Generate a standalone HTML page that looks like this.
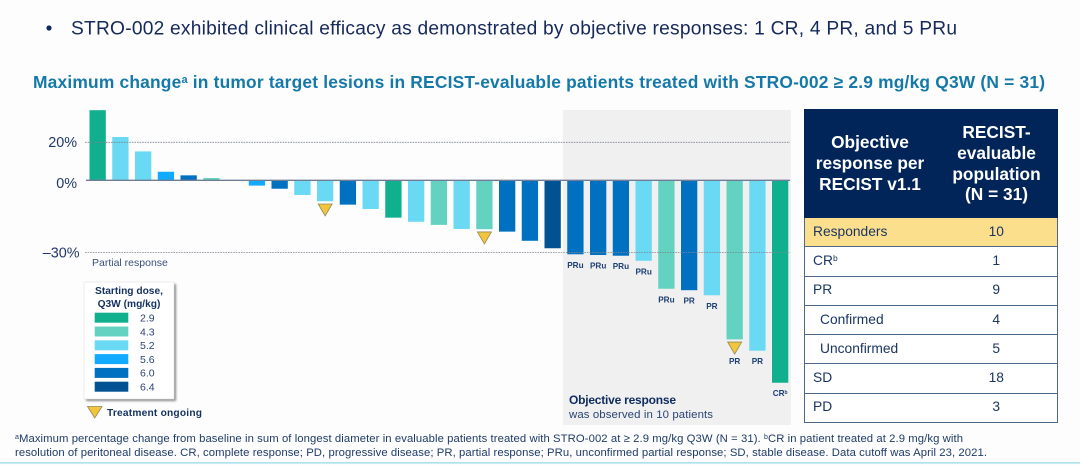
<!DOCTYPE html>
<html lang="en">
<head>
<meta charset="utf-8">
<title>STRO-002 waterfall chart</title>
<style>
  html, body { margin: 0; padding: 0; background: #fdfdfd; }
  #slide { position: relative; width: 1080px; height: 465px; overflow: hidden; background: #fdfdfd; font-family: "Liberation Sans", sans-serif; filter: blur(0.35px); }
  #chart { position: absolute; left: 0; top: 0; }
  #response-table { position: absolute; left: 804px; top: 109px; width: 254px; table-layout: fixed; border-collapse: collapse; color: #1c3563; font-size: 13.8px; }
  #response-table th { background: #022559; color: #fff; font-size: 17.3px; line-height: 20.7px; font-weight: bold; height: 107px; padding: 0; border: 1px solid #022559; text-align: center; }
  #response-table td { height: 26.3px; padding: 0 0 2px 0; border-top: 1px solid #4f6888; border-bottom: 1px solid #4f6888; background: #fff; }
  #response-table td:first-child { padding-left: 8px; border-left: 1px solid #4f6888; }
  #response-table td:last-child { text-align: center; border-right: 1px solid #4f6888; }
  #response-table tr.hl td { background: #fbdf8c; }
  #response-table td.indent { padding-left: 15px; }
  #response-table sup { font-size: 8.5px; line-height: 0; vertical-align: 4px; }
</style>
</head>
<body>
<div id="slide">
  <svg id="chart" width="1080" height="465" viewBox="0 0 1080 465" font-family="'Liberation Sans', sans-serif">
    <defs>
      <filter id="legend-blur" x="-10%" y="-10%" width="120%" height="120%"><feGaussianBlur stdDeviation="1"></feGaussianBlur></filter>
    </defs>
    <circle cx="49" cy="28" r="2.6" fill="#12295c"></circle>
    <text x="71" y="34.5" font-size="19.2" fill="#16295c" textLength="886" lengthAdjust="spacing">STRO-002 exhibited clinical efficacy as demonstrated by objective responses: 1 CR, 4 PR, and 5 PRu</text>
    <text x="33" y="88" font-size="17.4" font-weight="bold" fill="#1479a8" textLength="1012" lengthAdjust="spacing">Maximum change<tspan font-size="11" dy="-5">a</tspan><tspan dy="5"> in tumor target lesions in RECIST-evaluable patients treated with STRO-002 ≥ 2.9 mg/kg Q3W (N = 31)</tspan></text>

    <rect x="563" y="110" width="228" height="315" fill="#f0f0f0"></rect>
    <g id="bars"></g>
    <g id="grid"></g>
    <g id="markers"></g>
    <g id="bar-labels"></g>
    <g id="ticks"></g>

    <text x="92" y="266" font-size="10.5" fill="#3a5078">Partial response</text>

    <text x="569" y="404" font-size="12" font-weight="bold" fill="#0f2b5e" textLength="107" lengthAdjust="spacing">Objective response</text>
    <text x="569" y="418" font-size="11.4" fill="#2a4474" textLength="144" lengthAdjust="spacing">was observed in 10 patients</text>

    <g>
      <rect x="86" y="284" width="90" height="117" fill="#8a8a8a" filter="url(#legend-blur)"></rect>
      <rect x="84" y="282" width="90" height="117" fill="#ffffff" stroke="#e2e2e2" stroke-width="0.6"></rect>
      <text x="129" y="294" font-size="10.2" font-weight="bold" fill="#14305f" text-anchor="middle">Starting dose,</text>
      <text x="129" y="307" font-size="10.2" font-weight="bold" fill="#14305f" text-anchor="middle">Q3W (mg/kg)</text>
      <g id="legend-entries"></g>
    </g>
    <polygon points="87.5,406.5 102,406.5 94.75,418" fill="#f2c53d" stroke="#8f8a5a" stroke-width="0.8"></polygon>
    <text x="107" y="416" font-size="10.2" font-weight="bold" fill="#14305f" textLength="95" lengthAdjust="spacing">Treatment ongoing</text>

    <text x="15" y="442" font-size="11.3" fill="#1f3b68" textLength="948" lengthAdjust="spacing"><tspan font-size="7" dy="-3">a</tspan><tspan dy="3">Maximum percentage change from baseline in sum of longest diameter in evaluable patients treated with STRO-002 at ≥ 2.9 mg/kg Q3W (N = 31). </tspan><tspan font-size="7" dy="-3">b</tspan><tspan dy="3">CR in patient treated at 2.9 mg/kg with</tspan></text>
    <text x="15" y="456" font-size="11.3" fill="#1f3b68" textLength="972" lengthAdjust="spacing">resolution of peritoneal disease. CR, complete response; PD, progressive disease; PR, partial response; PRu, unconfirmed partial response; SD, stable disease. Data cutoff was April 23, 2021.</text>
    <rect x="0" y="462" width="1080" height="1.6" fill="#a9e2ec"></rect>
  </svg>

  <table id="response-table">
    <tr>
      <th style="width:130px">Objective<br>response per<br>RECIST v1.1</th>
      <th>RECIST-<br>evaluable<br>population<br>(N = 31)</th>
    </tr>
    <tr class="hl"><td>Responders</td><td>10</td></tr>
    <tr><td>CR<sup>b</sup></td><td>1</td></tr>
    <tr><td>PR</td><td>9</td></tr>
    <tr><td class="indent">Confirmed</td><td>4</td></tr>
    <tr><td class="indent">Unconfirmed</td><td>5</td></tr>
    <tr><td>SD</td><td>18</td></tr>
    <tr><td>PD</td><td>3</td></tr>
  </table>
</div>

<script>
// Data (maximum % change per patient, dose per patient)
const changes = [36.9, 22.8, 15.2, 4.5, 2.6, 1.2, 0, -2.2, -3.5, -6.1, -8.7, -10.1, -11.9, -15.5, -17.2, -18.5, -20.2, -20.3, -21.3, -25.1, -28.2, -30.7, -31, -31.3, -33.4, -45, -45.6, -47.7, -66, -70.7, -84];
const doses = ["2.9", "5.2", "5.2", "5.6", "6.0", "4.3", "6.0", "5.6", "6.0", "5.2", "5.2", "6.0", "5.2", "2.9", "5.2", "4.3", "5.2", "4.3", "6.0", "6.0", "6.4", "6.0", "6.0", "6.0", "5.2", "4.3", "6.0", "5.2", "4.3", "5.2", "2.9"];
const responses = ["", "", "", "", "", "", "", "", "", "", "", "", "", "", "", "", "", "", "", "", "", "PRu", "PRu", "PRu", "PRu", "PRu", "PR", "PR", "PR", "PR", "CR"];
const ongoingPatients = [11, 18, 29];
const legendDoses = ["2.9", "4.3", "5.2", "5.6", "6.0", "6.4"];
const tickValues = [20, 0, -30];
const tickLabels = ["20%", "0%", "–30%"];

const doseColor = { "2.9": "#10b08e", "4.3": "#63d2c0", "5.2": "#6ad9f3", "5.6": "#12aaff", "6.0": "#0070c0", "6.4": "#005292" };
const NS = "http://www.w3.org/2000/svg";

// The source axis is not to scale: positive and negative sides use different factors.
function yScale(v) { return v >= 0 ? 180.3 - v * 1.9 : 180.3 - v * 2.41; }
function xScale(i) { return 89.5 + i * 22.75; }
const barWidth = 16.3;

function make(tag, attrs, parent) {
  const el = document.createElementNS(NS, tag);
  for (const k in attrs) el.setAttribute(k, attrs[k]);
  parent.appendChild(el);
  return el;
}

const barsG = document.getElementById("bars");
const gridG = document.getElementById("grid");
const markersG = document.getElementById("markers");
const labelsG = document.getElementById("bar-labels");
const ticksG = document.getElementById("ticks");
const legendG = document.getElementById("legend-entries");

changes.forEach(function (v, i) {
  const y0 = yScale(0), y1 = yScale(v);
  const r = make("rect", { x: xScale(i), y: Math.min(y0, y1), width: barWidth, height: Math.abs(y1 - y0), fill: doseColor[doses[i]] }, barsG);
  
  

  const cx = xScale(i) + barWidth / 2;
  const ongoing = ongoingPatients.indexOf(i + 1) !== -1;
  if (ongoing) {
    const top = y1 + 2.7;
    const m = make("polygon", { points: (cx - 7) + "," + top + " " + (cx + 7) + "," + top + " " + cx + "," + (top + 12), fill: "#f2c53d", stroke: "#8f8a5a", "stroke-width": 0.8 }, markersG);
    
    
  }
  if (responses[i]) {
    const t = make("text", { x: cx, y: y1 + (ongoing ? 24.5 : 13.5), "font-size": 8.2, "font-weight": "bold", fill: "#1d3f74", "text-anchor": "middle" }, labelsG);
    t.textContent = responses[i];
    
    
    if (responses[i] === "CR") {
      const s = make("tspan", { "font-size": 5, dy: -2 }, t);
      s.textContent = "b";
      
      
    }
  }
});

tickValues.forEach(function (v, i) {
  const y = yScale(v);
  const line = make("line", v === 0
    ? { x1: 86, x2: 790, y1: y, y2: y, stroke: "#6f7c95", "stroke-width": 1.3 }
    : { x1: 85, x2: 790, y1: y, y2: y, stroke: "#7d8590", "stroke-width": 0.8, "stroke-dasharray": "1.6 1" }, gridG);
  
  

  const t = make("text", { x: v < 0 ? 79.5 : 77, y: y + (v === 0 ? 7.7 : 4.8), "font-size": 14.4, fill: "#22386b", "text-anchor": "end" }, ticksG);
  t.textContent = tickLabels[i];
  
  
});

legendDoses.forEach(function (d, i) {
  const cy = 317.7 + i * 13.8;
  const s = make("rect", { x: 94.7, y: cy - 5, width: 33.6, height: 10, fill: doseColor[d] }, legendG);
  
  
  const t = make("text", { x: 140, y: cy + 3.8, "font-size": 10.5, fill: "#2a4474" }, legendG);
  t.textContent = d;
  
  
});
</script>
</body>
</html>
